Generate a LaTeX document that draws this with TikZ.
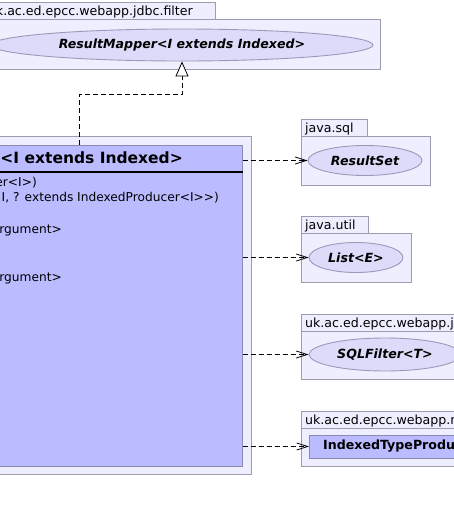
\documentclass[tikz,border=0pt]{standalone}
\usepackage{fontspec}
\setmainfont{DejaVu Sans}
\usetikzlibrary{shapes.geometric,arrows.meta}
\definecolor{pkgfill}{HTML}{EEEEFF}
\definecolor{pkgline}{HTML}{9C9CB0}
\definecolor{ifill}{HTML}{DCDCFA}
\definecolor{iline}{HTML}{9A9AB8}
\definecolor{cfill}{HTML}{BBBBFF}
\definecolor{cline}{HTML}{8A8AAE}
\begin{document}
\begin{tikzpicture}[x=1pt,y=-1pt,
  pkg/.style={draw=pkgline, fill=pkgfill, line width=0.9pt},
  ptext/.style={font=\fontsize{12.6}{14}\selectfont, inner sep=0pt, anchor=base west},
  mtext/.style={font=\fontsize{12.2}{14}\selectfont, inner sep=0pt, anchor=base east},
  iface/.style={ellipse, draw=iline, fill=ifill, line width=0.9pt, inner sep=0pt,
     font=\fontsize{12.6}{14}\selectfont\bfseries\itshape},
  cbox/.style={rectangle, draw=cline, fill=cfill, line width=0.9pt, inner sep=0pt},
  dep/.style={line width=0.8pt, dash pattern=on 5pt off 3pt, -{Straight Barb[length=11pt,width=7pt]}},
  real/.style={line width=0.8pt, dash pattern=on 5pt off 3pt, -{Triangle[length=15pt,width=13pt,fill=white]}}]
\clip (0,0) rectangle (454,512);
\fill[white] (0,0) rectangle (454,512);

% top package
\draw[pkg] (-5,2) rectangle (215,19);
\draw[pkg] (-5,19) rectangle (380,69);
\node[ptext, anchor=base east] (p0) at (193,15) {uk.ac.ed.epcc.webapp.jdbc.filter};
\node[iface, minimum width=382pt, minimum height=32pt] (rm) at (182,45) {ResultMapper<I extends Indexed>};

% main class package
\draw[pkg] (-5,136) rectangle (251,474);
\node[cbox, anchor=north east, minimum width=260pt, minimum height=321pt] (cls) at (243,145) {};
\draw[line width=2pt] (-10,171.5) -- (242.5,171.5);
\node[font=\fontsize{15.5}{18}\selectfont\bfseries, inner sep=0pt, anchor=base east] (ct) at (183,163.8) {<I extends Indexed>};
\node[mtext] (m1) at (37,186.3) {er<I>)};
\node[mtext] (m2) at (219,201.5) {I, ? extends IndexedProducer<I>{}>)};
\node[mtext] (m3) at (62,233.5) {rgument>};
\node[mtext] (m4) at (62,281.5) {rgument>};

% java.sql
\draw[pkg] (301,119) rectangle (367,136);
\draw[pkg] (301,136) rectangle (430,185);
\node[ptext] (p1) at (305,132) {java.sql};
\node[iface, minimum width=114pt, minimum height=30pt] (rs) at (365,160.5) {ResultSet};

% java.util
\draw[pkg] (301,216) rectangle (368,233);
\draw[pkg] (301,233) rectangle (411,282);
\node[ptext] (p2) at (305,229) {java.util};
\node[iface, minimum width=94pt, minimum height=30pt] (le) at (356,257.5) {List<E>};

% uk...jdbc
\draw[pkg] (301,314) rectangle (470,331);
\draw[pkg] (301,331) rectangle (470,379);
\node[ptext] (p3) at (305,327) {uk.ac.ed.epcc.webapp.jdbc};
\node[iface, minimum width=152pt, minimum height=33pt] (sf) at (385,354.5) {SQLFilter<T>};

% uk...model
\draw[pkg] (301,411) rectangle (470,428);
\draw[pkg] (301,428) rectangle (470,466);
\node[ptext] (p4) at (305,424) {uk.ac.ed.epcc.webapp.model};
\node[cbox, anchor=west, minimum width=200pt, minimum height=23pt] (itp) at (309,446.5) {};
\node[font=\fontsize{12.6}{14}\selectfont\bfseries, inner sep=0pt, anchor=west] (itpt) at (323,446.5) {IndexedTypeProducer};

% connectors
\coordinate (c1) at (243,160.5);
\coordinate (c2) at (243,257.5);
\coordinate (c3) at (243,354.5);
\coordinate (c4) at (243,446.5);
\draw[dep] (c1) -- (rs.west);
\draw[dep] (c2) -- (le.west);
\draw[dep] (c3) -- (sf.west);
\draw[dep] (c4) -- (itp.west);

\coordinate (r0) at (79,145);
\draw[real] (r0) -- (79,94.5) -| (rm.south);
\end{tikzpicture}
\end{document}
